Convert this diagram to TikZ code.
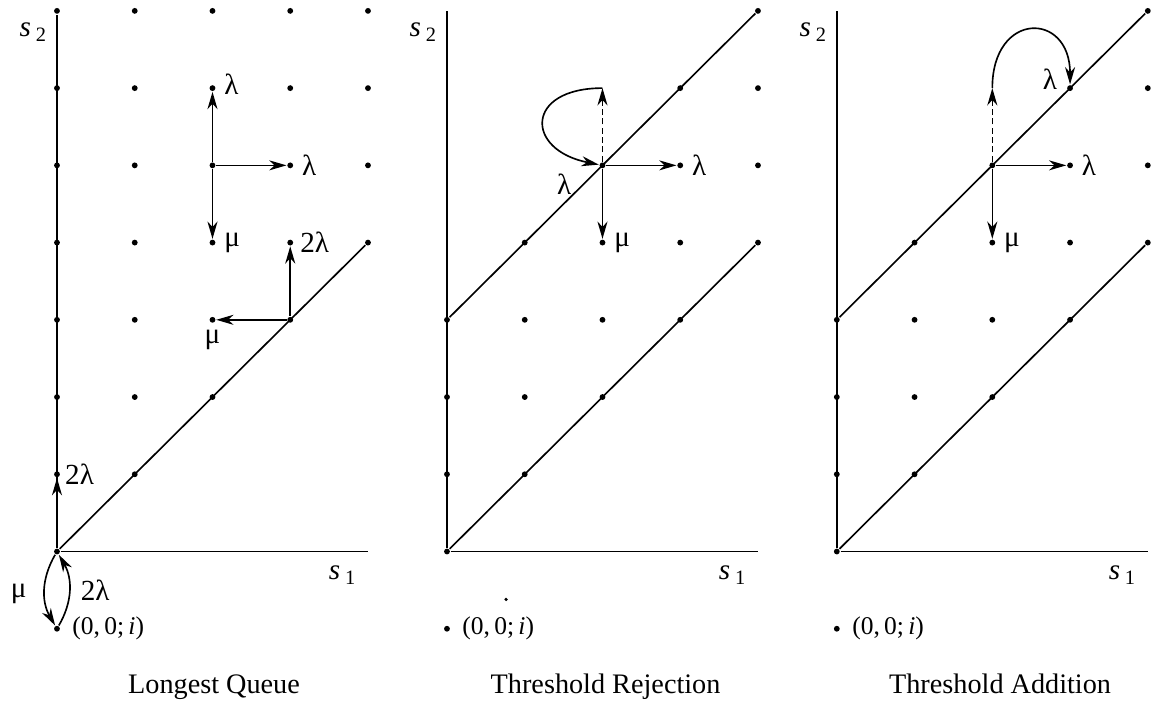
\documentclass[tikz,border=0pt]{standalone}
\usepackage{fontspec}
\setmainfont{Liberation Serif}
\usetikzlibrary{arrows.meta}
\usetikzlibrary{positioning}

\begin{document}
\begin{tikzpicture}[x=1.5cm, y=1.49cm, line width=0.9pt]
    \tikzstyle{dot}=[circle, fill=black, inner sep=0pt, minimum size=3.2pt];
    \tikzstyle{lab}=[inner sep=1pt, font=\fontsize{16}{18}\selectfont];
    \tikzstyle{ptlab}=[inner sep=1pt, font=\fontsize{14}{16}\selectfont];
    \tikzstyle{axlab}=[inner sep=1pt, font=\fontsize{16}{18}\selectfont];
    \tikzstyle{ttl}=[anchor=base, font=\fontsize{15.5}{18}\selectfont];
    \tikzstyle{rate}=[-{Stealth[length=9.5pt, width=5.5pt, inset=3pt]}];
    \useasboundingbox (-0.733,-1.979) rectangle (14.251,7.141);

    % Longest Queue
    \begin{scope}
      \foreach \i in {0,...,4}
        \foreach \j in {\i,...,7}
          \node (a\i\j) at (\i,\j) [dot]{};
      \coordinate (aX) at (4,0);
      \node (a0i) at (0,-1) [dot]{};
      \draw (a00) -- (a07);
      \draw (a00) -- (aX);
      \draw (a00) -- (a44);
      \draw[rate] (a25) -- (a26);
      \draw[rate] (a25) -- (a35);
      \draw[rate] (a25) -- (a24);
      \draw[rate] (a33) -- (a34);
      \draw[rate] (a33) -- (a23);
      \draw[rate] (a00) -- (a01);
      \draw[rate] (a00) to[bend right=30] (a0i);
      \draw[rate] (a0i) to[bend right=30] (a00);
      \node[lab, right=3pt of a26, yshift=2pt] {λ};
      \node[lab, right=3pt of a35] {λ};
      \node[lab, right=3pt of a24] {μ};
      \node[lab, right=2pt of a34] {2λ};
      \node[lab, below=2pt of a23] {μ};
      \node[lab, right=1pt of a01] {2λ};
      \node[lab, xshift=-21pt, yshift=-23.5pt] at (a00) {μ};
      \node[lab, xshift=21pt, yshift=-21pt] at (a00) {2λ};
      \node[ptlab, right=5pt of a0i] {(0,\,0;\,\textit{i})};
      \node[axlab, anchor=east, xshift=-4pt, yshift=-11.5pt] at (a07) {\textit{s}\,\textsubscript{2}};
      \node[axlab, anchor=east, xshift=-5pt, yshift=-13pt] at (aX) {\textit{s}\,\textsubscript{1}};
      \node[ttl] (t_1) at (2.02,-1.84) {Longest Queue};
    \end{scope}

    % Threshold Rejection
    \begin{scope}[shift={(5.016,0)}]
      \foreach \i/\top in {0/3, 1/4, 2/5, 3/6, 4/7}
        \foreach \j in {\i,...,\top}
          \node (b\i\j) at (\i,\j) [dot]{};
      \coordinate (bY) at (0,7);
      \coordinate (bX) at (4,0);
      \coordinate (b26) at (2,6);
      \node (b0i) at (0,-1) [dot]{};
      \node (bsp) at (0.76,-0.62) [dot, minimum size=2pt]{};
      \draw (b00) -- (bY);
      \draw (b00) -- (bX);
      \draw (b00) -- (b44);
      \draw (b03) -- (b47);
      \draw[rate] (b25) -- (b35);
      \draw[rate] (b25) -- (b24);
      \draw[rate, dash pattern=on 3.3pt off 1.8pt] (b25) -- (b26);
      \draw[rate] (b26) .. controls +(-1,0) and +(-1,0.2) .. (b25);
      \node[lab, right=3pt of b35] {λ};
      \node[lab, right=3pt of b24] {μ};
      \node[lab, xshift=-21pt, yshift=-10.4pt] at (b25) {λ};
      \node[ptlab, right=5pt of b0i] {(0,\,0;\,\textit{i})};
      \node[axlab, anchor=east, xshift=-4pt, yshift=-11.5pt] at (bY) {\textit{s}\,\textsubscript{2}};
      \node[axlab, anchor=east, xshift=-5pt, yshift=-13pt] at (bX) {\textit{s}\,\textsubscript{1}};
      \node[ttl] (t_2) at (2.04,-1.84) {Threshold Rejection};
    \end{scope}

    % Threshold Addition
    \begin{scope}[shift={(10.03,0)}]
      \foreach \i/\top in {0/3, 1/4, 2/5, 3/6, 4/7}
        \foreach \j in {\i,...,\top}
          \node (c\i\j) at (\i,\j) [dot]{};
      \coordinate (cY) at (0,7);
      \coordinate (cX) at (4,0);
      \coordinate (c26) at (2,6);
      \node (c0i) at (0,-1) [dot]{};
      \draw (c00) -- (cY);
      \draw (c00) -- (cX);
      \draw (c00) -- (c44);
      \draw (c03) -- (c47);
      \draw[rate] (c25) -- (c35);
      \draw[rate] (c25) -- (c24);
      \draw[rate, dash pattern=on 3.3pt off 1.8pt] (c25) -- (c26);
      \draw[rate] (c26) .. controls +(0,1) and +(0,1) .. (c36);
      \node[lab, right=3pt of c35] {λ};
      \node[lab, right=3pt of c24] {μ};
      \node[lab, xshift=-11pt, yshift=5pt] at (c36) {λ};
      \node[ptlab, right=5pt of c0i] {(0,\,0;\,\textit{i})};
      \node[axlab, anchor=east, xshift=-4pt, yshift=-11.5pt] at (cY) {\textit{s}\,\textsubscript{2}};
      \node[axlab, anchor=east, xshift=-5pt, yshift=-13pt] at (cX) {\textit{s}\,\textsubscript{1}};
      \node[ttl] (t_3) at (2.1,-1.84) {Threshold Addition};
    \end{scope}
\end{tikzpicture}
\end{document}
